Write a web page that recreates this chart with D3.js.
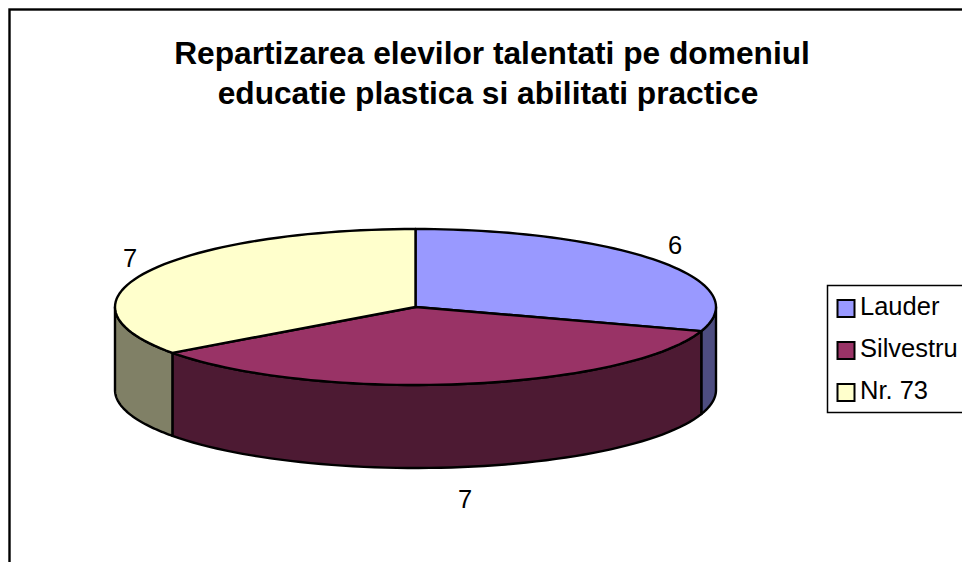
<!DOCTYPE html>
<html><head><meta charset="utf-8">
<script src="https://cdn.jsdelivr.net/npm/d3@7"></script>
<style>html,body{margin:0;padding:0;background:#fff;overflow:hidden}svg{display:block}text{font-family:"Liberation Sans",Arial,sans-serif;fill:#000}</style>
</head><body><svg id="c" width="962" height="562"></svg>
<script>
const titleLines = ["Repartizarea elevilor talentati pe domeniul","educatie plastica si abilitati practice"];
const categories = ["Lauder","Silvestru","Nr. 73"];
const values = [6,7,7];
const topColors = ["#9999ff","#993366","#ffffcc"];
const sideColors = ["#4d4d80","#4d1a33","#808066"];
const svg = d3.select("#c");
const cx=415.5, cy=307, rx=300.5, ry=78, depth=83;
const px = d3.scaleLinear().domain([-1,1]).range([cx-rx,cx+rx]);
const py = d3.scaleLinear().domain([-1,1]).range([cy-ry,cy+ry]);
const pie = d3.pie().sort(null).value(d=>d);
const arcs = pie(values);
const line = d3.line().x(d=>d[0]).y(d=>d[1]);
const pt=(a,dy=0)=>[px(Math.sin(a)),py(-Math.cos(a))+dy];
const samples=(a0,a1,dy)=>d3.range(0,61).map(i=>pt(a0+(a1-a0)*i/60,dy));

svg.append("rect").attr("x",9.5).attr("y",9.5).attr("width",1000).attr("height",600).attr("fill","#fff").attr("stroke","#000").attr("stroke-width",2.4);

const titleX=[492,488];
titleLines.forEach((t,i)=>svg.append("text").attr("x",titleX[i]).attr("y",64+i*40).attr("text-anchor","middle").attr("font-size",31.7).attr("font-weight","bold").text(t));

arcs.forEach((d,i)=>{
  const a0=Math.max(d.startAngle,Math.PI/2), a1=Math.min(d.endAngle,3*Math.PI/2);
  if(a1<=a0) return;
  const p=[...samples(a0,a1,0),...samples(a1,a0,depth)];
  svg.append("path").attr("d",line(p)+"Z").attr("fill",sideColors[i]).attr("stroke","#000").attr("stroke-width",2.4).attr("stroke-linejoin","round");
});
arcs.forEach((d,i)=>{
  const p=[[cx,cy],...samples(d.startAngle,d.endAngle,0)];
  svg.append("path").attr("d",line(p)+"Z").attr("fill",topColors[i]).attr("stroke","#000").attr("stroke-width",2.4).attr("stroke-linejoin","round");
});
const labelPos=[[675,245],[465,499],[130,258]];
values.forEach((v,i)=>svg.append("text").attr("x",labelPos[i][0]).attr("y",labelPos[i][1]+9).attr("text-anchor","middle").attr("font-size",25.5).text(v));

svg.append("rect").attr("x",827.5).attr("y",285.5).attr("width",200).attr("height",127).attr("fill","#fff").attr("stroke","#000").attr("stroke-width",1.5);
const ly=d3.scalePoint().domain(categories).range([308,392]);
categories.forEach((c,i)=>{
  svg.append("rect").attr("x",837.5).attr("y",ly(c)-8).attr("width",17).attr("height",17).attr("fill",topColors[i]).attr("stroke","#000").attr("stroke-width",2);
  svg.append("text").attr("x",860).attr("y",ly(c)+7).attr("font-size",25.5).text(c);
});
</script></body></html>
